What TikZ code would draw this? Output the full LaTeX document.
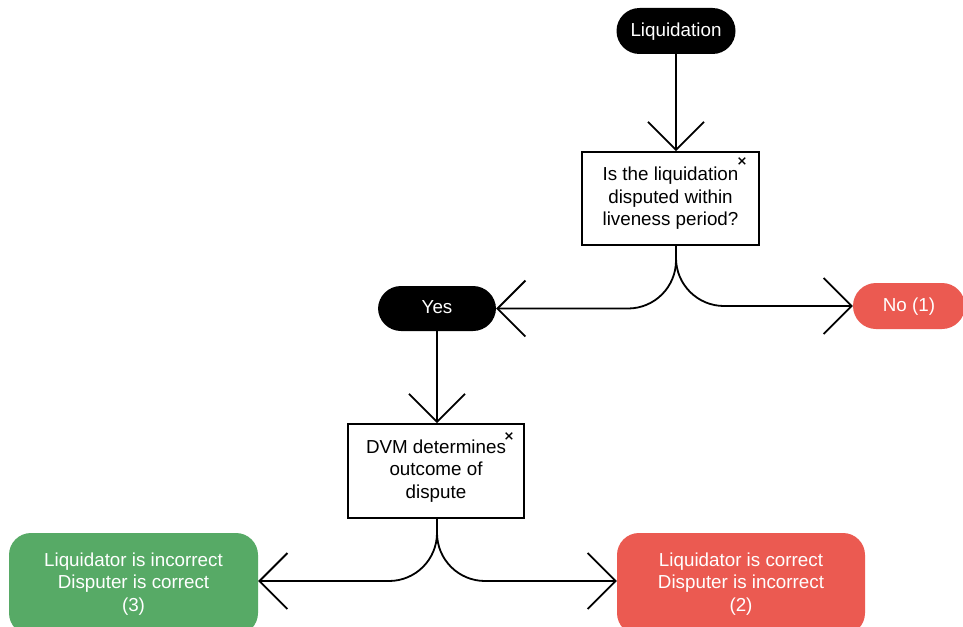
\documentclass[tikz,border=0pt]{standalone}
\usepackage{fontspec}
\setmainfont{Liberation Sans}
\newfontfamily\symfont{DejaVu Sans}
\usetikzlibrary{arrows.meta}
\definecolor{redbox}{RGB}{235,90,81}
\definecolor{greenbox}{RGB}{87,170,102}
\tikzset{
  lbl/.style={font=\fontsize{18.8}{22.5}\selectfont},
  pill/.style={lbl, fill=black, text=white, rounded corners=23pt, minimum width=119pt, minimum height=46pt, inner sep=0pt, text depth=2pt},
  redpill/.style={pill, fill=redbox},
  decision/.style={lbl, draw=black, line width=1.8pt, fill=white, align=center, inner sep=0pt, minimum width=177pt, minimum height=93pt},
  outcome/.style={lbl, text=white, rounded corners=22pt, align=center, inner sep=0pt, minimum width=249pt, minimum height=102pt},
  flow/.style={line width=1.8pt, -{Straight Barb[length=28pt,width=56pt]}},
  branch/.style={flow, rounded corners=48pt},
  xmark/.style={font=\symfont\bfseries\fontsize{13}{13}\selectfont, inner sep=0pt}
}
\begin{document}
\begin{tikzpicture}[x=1pt,y=-1pt]
\clip (0,0) rectangle (963,626);
\fill[white] (0,0) rectangle (963,626);
% nodes
\node[pill] (liq) at (676,31) {Liquidation};
\node[decision] (box1) at (670.5,198.5) {Is the liquidation\\disputed within\\liveness period?};
\node[xmark] (x1) at (742,162) {×};
\node[pill, minimum width=118pt, minimum height=45pt] (yes) at (437,308.5) {Yes};
\node[redpill, minimum width=112pt] (no) at (909,306) {No (1)};
\node[decision, minimum width=176pt, minimum height=94pt] (dvm) at (436,471) {DVM determines\\outcome of\\dispute};
\node[xmark] (x2) at (509,437) {×};
\node[outcome, fill=greenbox] (green) at (133.5,584) {Liquidator is incorrect\\Disputer is correct\\(3)};
\node[outcome, fill=redbox, minimum width=248pt] (red) at (741,584) {Liquidator is correct\\Disputer is incorrect\\(2)};
% connectors
\draw[flow] (liq.south) -- (liq.south |- box1.north);
\coordinate (b1) at (liq.south |- box1.south);
\draw[branch] (b1) |- (yes.east);
\draw[branch] (b1) |- (no.west);
\draw[flow] (yes.south) -- (yes.south |- dvm.north);
\coordinate (b2) at (yes.south |- dvm.south);
\draw[branch] (b2) |- ([yshift=3pt]green.east);
\draw[branch] (b2) |- ([yshift=3pt]red.west);
\end{tikzpicture}
\end{document}
